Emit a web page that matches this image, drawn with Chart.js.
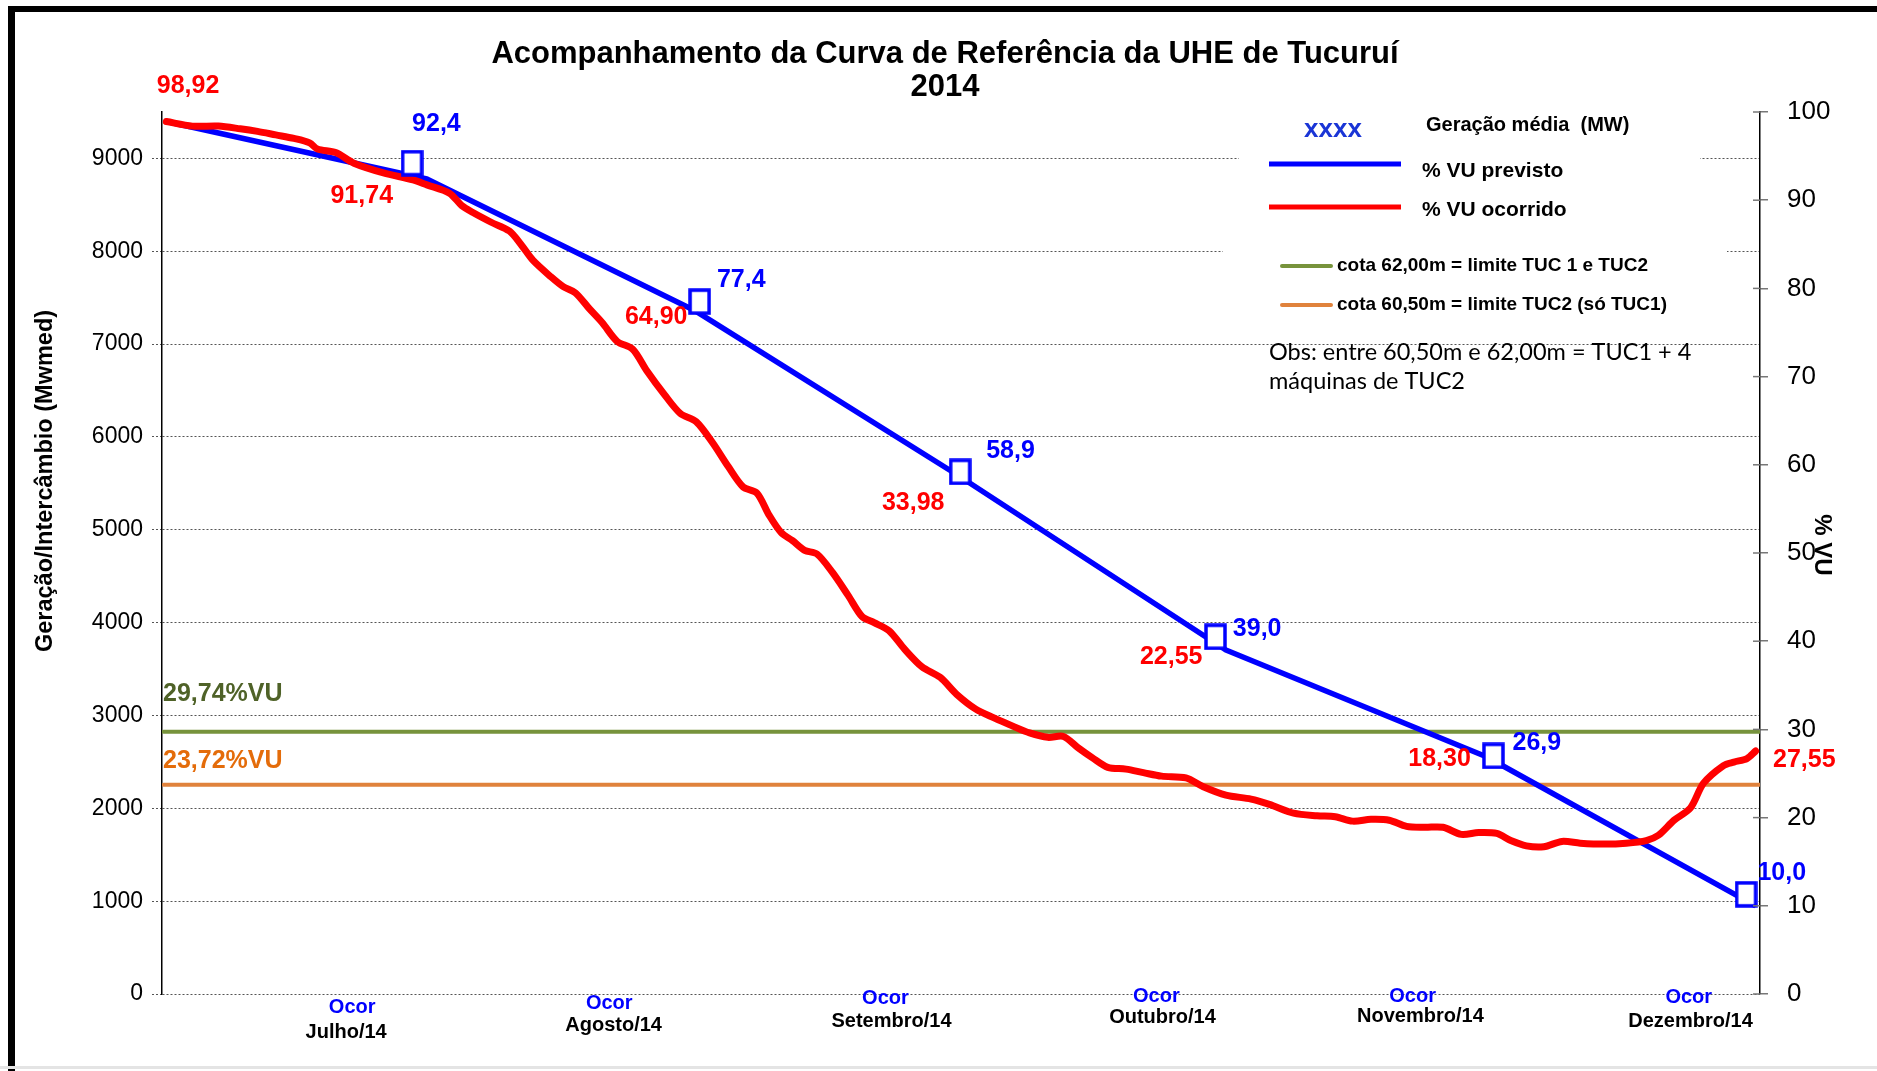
<!DOCTYPE html>
<html>
<head>
<meta charset="utf-8">
<script src="https://cdn.jsdelivr.net/npm/chart.js@4.4.0/dist/chart.umd.min.js"></script>
<style>
  html, body { margin: 0; padding: 0; background: #fff; }
  #caixa { width: 1877px; height: 1071px; }
</style>
</head>
<body>
<div id="caixa"><canvas id="grafico" width="1877" height="1071"></canvas></div>
<script>
// ----------- DADOS ----------
// eixo x = dias desde 01/07/2014
const diasPrevisto = [0, 30, 61, 91, 122, 152, 183];
const vuPrevisto = [98.92, 92.4, 77.4, 58.9, 39.0, 26.9, 10.0];

const diasMarcador = [28.3, 61.4, 91.4, 120.8, 152.8, 181.9];
const vuMarcador = [94.2, 78.5, 59.2, 40.5, 27.0, 11.3];

const diasOcorrido = [0, 3, 6, 8.5, 10.5, 12.6, 14.7, 16.5, 17.4, 19.5, 21.6, 25, 28.4, 30,
  32.6, 34, 35.3, 37.4, 39.5, 40.9, 42.2, 44.3, 45.7, 47.1, 48.7, 50.2, 51.9, 53.7, 55.3, 57.4, 59.2, 61,
  62.9, 64.7, 66.4, 68, 69.4, 70.8, 72.1, 73.5, 74.9, 76.7, 78.5, 80.1, 81.5, 83.2, 85, 87, 89.1, 91,
  93.2, 95.3, 97.4, 99.4, 101.5, 103.3, 105, 106.6, 108.4, 110.5, 112.5, 114.6, 117.4, 119.4, 122,
  124.9, 127, 129.8, 132.5, 134.6, 136.6, 138.7, 140.8, 142.8, 144.9, 147, 149.1, 151.1, 153.2,
  154.8, 156.6, 158.6, 160.7, 162.8, 165.6, 168.1, 170.4, 171.8, 173.6, 175.5, 177, 179.3, 180.5, 182, 183];
const vuOcorrido = [98.92, 98.4, 98.4, 98.1, 97.8, 97.4, 97.0, 96.5, 95.8, 95.4, 94.2, 93.1, 92.3, 91.74,
  90.8, 89.4, 88.6, 87.5, 86.5, 84.9, 83.2, 81.3, 80.2, 79.5, 77.7, 76.1, 74.0, 73.1, 70.7, 67.9, 65.8, 64.9,
  62.5, 59.8, 57.5, 56.8, 54.3, 52.3, 51.4, 50.3, 49.9, 47.8, 45.2, 42.8, 42.1, 41.2, 39.1, 37.1, 35.9, 33.98,
  32.3, 31.3, 30.4, 29.6, 29.1, 29.2, 27.9, 26.8, 25.7, 25.5, 25.1, 24.7, 24.5, 23.5, 22.55,
  22.1, 21.5, 20.5, 20.2, 20.1, 19.6, 19.8, 19.7, 19.0, 18.9, 18.9, 18.1, 18.3, 18.2,
  17.4, 16.8, 16.7, 17.3, 17.1, 17.0, 17.1, 17.4, 18.0, 19.7, 21.1, 23.9, 25.9, 26.3, 26.7, 27.55];

const cotaTuc1e2 = 29.74;
const cotaTuc2 = 23.72;
const limitesX = [-0.3, 183.5];

const meses = ["Julho/14", "Agosto/14", "Setembro/14", "Outubro/14", "Novembro/14", "Dezembro/14"];
const ticksGeracao = [0, 1000, 2000, 3000, 4000, 5000, 6000, 7000, 8000, 9000];
const ticksVU = [0, 10, 20, 30, 40, 50, 60, 70, 80, 90, 100];

// rotulos de valores [texto, cor, dia, %VU] (posicao do texto)
const rotulos = [
  ["98,92", "#ff0000", 2.5, 102.9],
  ["92,4", "#0000ff", 31.1, 98.6],
  ["91,74", "#ff0000", 22.5, 90.5],
  ["77,4", "#0000ff", 66.2, 80.9],
  ["64,90", "#ff0000", 56.4, 76.7],
  ["58,9", "#0000ff", 97.2, 61.6],
  ["33,98", "#ff0000", 86.0, 55.7],
  ["39,0", "#0000ff", 125.6, 41.4],
  ["22,55", "#ff0000", 115.7, 38.2],
  ["26,9", "#0000ff", 157.8, 28.5],
  ["18,30", "#ff0000", 146.6, 26.6],
  ["10,0", "#0000ff", 186.0, 13.7],
  ["27,55", "#ff0000", 188.6, 26.5]
];

// posicao dos textos do eixo x
const diasOcor = [21.4, 51.0, 82.8, 114.0, 143.5, 175.3];
const yOcor = [1007, 1003, 998, 996, 996, 997];
const diasMes = [20.7, 51.5, 83.5, 114.7, 144.4, 175.5];
const yMes = [1032, 1025, 1021, 1017, 1016, 1021];

const FONTE = "'Liberation Sans', Arial, sans-serif";
Chart.defaults.font.family = FONTE;

// marcador quadrado (retangulo) do previsto
const marcador = document.createElement("canvas");
marcador.width = 23;
marcador.height = 27;
(function () {
  const c = marcador.getContext("2d");
  c.fillStyle = "#fff";
  c.fillRect(2, 2, 19, 23);
  c.strokeStyle = "#0000ff";
  c.lineWidth = 3.5;
  c.strokeRect(2, 2, 19, 23);
})();

const pontos = (xs, ys) => xs.map((x, i) => ({ x: x, y: ys[i] }));

const desenhos = {
  id: "desenhos",
  beforeDraw(chart) {
    const ctx = chart.ctx;
    ctx.save();
    ctx.fillStyle = "#fff";
    ctx.fillRect(0, 0, chart.width, chart.height);
    ctx.fillStyle = "#000";
    ctx.fillRect(8, 6, chart.width - 8, 6);
    ctx.fillRect(8, 6, 7, chart.height - 6);
    ctx.fillStyle = "#e4e4e4";
    ctx.fillRect(0, 1066, chart.width, 3);
    ctx.restore();
  },
  beforeDatasetsDraw(chart) {
    // caixas da legenda escondem as linhas de grade
    const ctx = chart.ctx;
    ctx.save();
    ctx.fillStyle = "#fff";
    ctx.fillRect(1239, 105, 461, 80);
    ctx.fillRect(1223, 190, 504, 130);
    ctx.restore();
  },
  afterDraw(chart) {
    const ctx = chart.ctx;
    const sx = chart.scales.x, sv = chart.scales.yVU;
    ctx.save();

    // tracinhos do eixo direito para dentro
    ctx.strokeStyle = "#777";
    ctx.lineWidth = 1.5;
    ticksVU.forEach(v => {
      const y = sv.getPixelForValue(v);
      ctx.beginPath();
      ctx.moveTo(sv.left - 7, y);
      ctx.lineTo(sv.left, y);
      ctx.stroke();
    });

    // titulo
    ctx.fillStyle = "#000";
    ctx.textAlign = "center";
    ctx.textBaseline = "middle";
    ctx.font = "bold 31px " + FONTE;
    ctx.fillText("Acompanhamento da Curva de Referência da UHE de Tucuruí", 945, 54);
    ctx.fillText("2014", 945, 87);

    // titulos dos eixos
    ctx.save();
    ctx.translate(46, 481);
    ctx.rotate(-Math.PI / 2);
    ctx.font = "bold 23.5px " + FONTE;
    ctx.fillText("Geração/Intercâmbio (Mwmed)", 0, 0);
    ctx.restore();
    ctx.save();
    ctx.translate(1822, 545);
    ctx.rotate(Math.PI / 2);
    ctx.font = "bold 24px " + FONTE;
    ctx.fillText("% VU", 0, 0);
    ctx.restore();

    // rotulos de valores
    ctx.font = "bold 25px " + FONTE;
    rotulos.forEach(r => {
      ctx.fillStyle = r[1];
      ctx.fillText(r[0], sx.getPixelForValue(r[2]), sv.getPixelForValue(r[3]));
    });

    // eixo x: Ocor + meses
    ctx.font = "bold 20px " + FONTE;
    meses.forEach((m, i) => {
      ctx.fillStyle = "#0000ff";
      ctx.fillText("Ocor", sx.getPixelForValue(diasOcor[i]), yOcor[i]);
      ctx.fillStyle = "#000";
      ctx.fillText(m, sx.getPixelForValue(diasMes[i]), yMes[i]);
    });

    // rotulos das cotas
    ctx.textAlign = "left";
    ctx.font = "bold 25px " + FONTE;
    ctx.fillStyle = "#4f6228";
    ctx.fillText("29,74%VU", 163, 694);
    ctx.fillStyle = "#e46c0a";
    ctx.fillText("23,72%VU", 163, 761);

    // legenda
    ctx.textAlign = "center";
    ctx.font = "bold 26px " + FONTE;
    ctx.fillStyle = "#1a35d6";
    ctx.fillText("xxxx", 1333, 130);
    ctx.textAlign = "left";
    ctx.fillStyle = "#000";
    ctx.font = "bold 20px " + FONTE;
    ctx.fillText("Geração média  (MW)", 1426, 125);
    ctx.font = "bold 21px " + FONTE;
    ctx.fillText("% VU previsto", 1422, 171);
    ctx.fillText("% VU ocorrido", 1422, 210);
    ctx.lineCap = "butt";
    ctx.lineWidth = 5;
    ctx.strokeStyle = "#0000ff";
    ctx.beginPath(); ctx.moveTo(1269, 164); ctx.lineTo(1401, 164); ctx.stroke();
    ctx.strokeStyle = "#ff0000";
    ctx.beginPath(); ctx.moveTo(1269, 207); ctx.lineTo(1401, 207); ctx.stroke();
    ctx.lineCap = "round";
    ctx.lineWidth = 4;
    ctx.strokeStyle = "#77933c";
    ctx.beginPath(); ctx.moveTo(1282, 266); ctx.lineTo(1331, 266); ctx.stroke();
    ctx.strokeStyle = "#e0823c";
    ctx.beginPath(); ctx.moveTo(1282, 305); ctx.lineTo(1331, 305); ctx.stroke();
    ctx.font = "bold 19px " + FONTE;
    ctx.fillText("cota 62,00m = limite TUC 1 e TUC2", 1337, 266);
    ctx.fillText("cota 60,50m = limite TUC2 (só TUC1)", 1337, 305);
    ctx.font = "23.5px Lato, 'Open Sans', sans-serif";
    ctx.fillText("Obs: entre 60,50m e 62,00m = TUC1 + 4", 1269, 352);
    ctx.fillText("máquinas de TUC2", 1269, 381);

    ctx.restore();
  }
};

new Chart(document.getElementById("grafico"), {
  type: "line",
  data: {
    datasets: [
      {
        label: "marcador",
        data: pontos(diasMarcador, vuMarcador),
        yAxisID: "yVU",
        showLine: false,
        pointStyle: marcador,
        pointRadius: 12,
        order: 0
      },
      {
        label: "% VU ocorrido",
        data: pontos(diasOcorrido, vuOcorrido),
        yAxisID: "yVU",
        borderColor: "#ff0000",
        borderWidth: 7,
        pointRadius: 0,
        borderJoinStyle: "round",
        borderCapStyle: "round",
        tension: 0.3,
        order: 1
      },
      {
        label: "% VU previsto",
        data: pontos(diasPrevisto, vuPrevisto),
        yAxisID: "yVU",
        borderColor: "#0000ff",
        borderWidth: 5.5,
        pointRadius: 0,
        borderJoinStyle: "round",
        order: 2
      },
      {
        label: "cota 60,50m",
        data: pontos(limitesX, [cotaTuc2, cotaTuc2]),
        yAxisID: "yVU",
        borderColor: "#e0823c",
        borderWidth: 4,
        pointRadius: 0,
        borderCapStyle: "round",
        order: 3
      },
      {
        label: "cota 62,00m",
        data: pontos(limitesX, [cotaTuc1e2, cotaTuc1e2]),
        yAxisID: "yVU",
        borderColor: "#77933c",
        borderWidth: 4,
        pointRadius: 0,
        borderCapStyle: "round",
        order: 4
      }
    ]
  },
  options: {
    responsive: false,
    animation: false,
    devicePixelRatio: 1,
    layout: { padding: { top: 112, bottom: 77, left: 0, right: 0 } },
    plugins: { legend: { display: false }, tooltip: { enabled: false } },
    scales: {
      x: { type: "linear", min: -0.5, max: 183.5, display: false },
      yGer: {
        position: "left",
        min: 0,
        max: 9500,
        afterBuildTicks: s => { s.ticks = ticksGeracao.map(v => ({ value: v })); },
        afterFit: s => { s.width = 162; },
        ticks: { color: "#000", font: { size: 23 }, padding: 9, callback: v => String(v) },
        grid: { color: "#555", lineWidth: 1, tickLength: 10, tickColor: "#555", tickBorderDash: [2, 2] },
        border: { color: "#000", width: 1.5, dash: [2, 2] }
      },
      yVU: {
        position: "right",
        min: 0,
        max: 100,
        afterBuildTicks: s => { s.ticks = ticksVU.map(v => ({ value: v })); },
        afterFit: s => { s.width = 117; },
        ticks: { color: "#000", font: { size: 26 }, padding: 19 },
        grid: { drawOnChartArea: false, tickLength: 8, tickColor: "#777", lineWidth: 1.5 },
        border: { color: "#000", width: 1.5 }
      }
    }
  },
  plugins: [desenhos]
});
</script>
</body>
</html>
